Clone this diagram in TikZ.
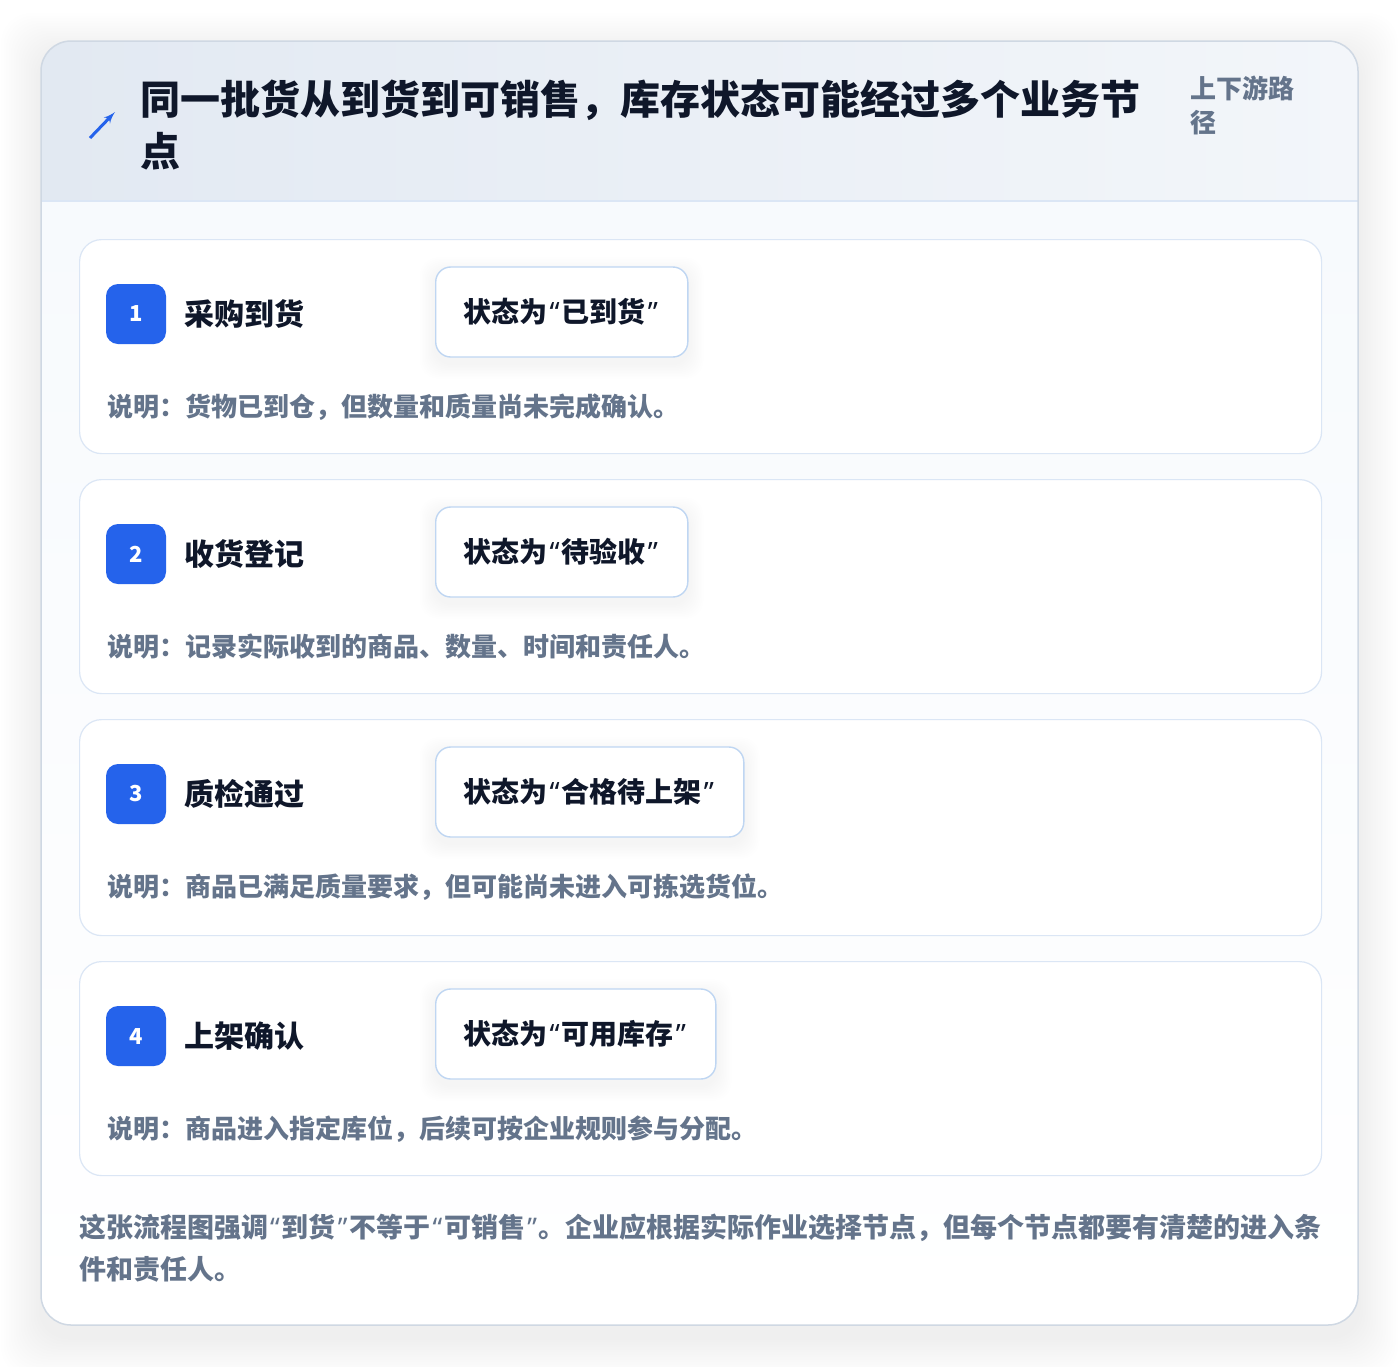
\documentclass[tikz,border=0pt]{standalone}
\usepackage{fontspec}
\setmainfont{Noto Sans CJK SC}
\newfontfamily\qfont{Noto Sans}
\newcommand\qo{{\qfont\kern2pt“\kern2pt}}
\newcommand\qc{{\qfont\kern2pt”\kern2pt}}
\usetikzlibrary{arrows}

\definecolor{ink}{HTML}{0F172A}
\definecolor{muted}{HTML}{64748B}
\definecolor{badgeblue}{HTML}{2563EB}
\definecolor{cardline}{HTML}{DBE6F5}
\definecolor{stateline}{HTML}{BFD6F2}
\definecolor{frameline}{HTML}{CFD8E3}
\definecolor{bodybg}{HTML}{F7FAFD}
\definecolor{headleft}{HTML}{E2E9F2}
\definecolor{headright}{HTML}{F3F6FA}

\pgfdeclarelayer{cards}
\pgfdeclarelayer{shade}
\pgfsetlayers{cards,shade,main}

\begin{document}
\begin{tikzpicture}[x=1pt,y=-1pt]
			\tikzstyle{card}=[draw=cardline,fill=white,rounded corners=22pt,line width=1.2pt,anchor=north west,minimum width=1242pt,inner sep=0pt]
			\tikzstyle{badge}=[fill=badgeblue,rounded corners=12pt,minimum width=60pt,minimum height=60pt,inner sep=0pt,text=white,font=\fontsize{22}{22}\selectfont\bfseries]
			\tikzstyle{stepname}=[anchor=west,inner sep=0pt,text=ink,font=\fontsize{30}{30}\selectfont\bfseries]
			\tikzstyle{state}=[draw=stateline,fill=white,rounded corners=15pt,line width=1.4pt,minimum height=90pt,inner xsep=28pt,anchor=west,text=ink,font=\fontsize{28}{28}\selectfont\bfseries]
			\tikzstyle{note}=[anchor=west,inner sep=0pt,text=muted,font=\fontsize{26}{26}\selectfont\bfseries]
			\tikzstyle{haze}=[black,fill opacity=0.004]

			\useasboundingbox (0,0) rectangle (1400,1366);

			\begin{pgfonlayer}{cards}
			\fill[white] (0,0) rectangle (1400,1366);

			% outer frame and its shadow
			\foreach \k in {1,...,16}
				\fill[haze,rounded corners=30pt] (41-2.5*\k,41-2.5*\k+12) rectangle (1358+2.5*\k,1325+2.5*\k+12);
			\fill[white,rounded corners=30pt] (41,41) rectangle (1358,1325);
			\begin{scope}
				\clip[rounded corners=30pt] (41,41) rectangle (1358,1325);
				\shade[top color=bodybg,bottom color=white] (41,201) rectangle (1358,1325);
				\shade[left color=headleft,right color=headright] (41,41) rectangle (1358,201);
			\end{scope}
			\draw[cardline,line width=1.5pt] (41,201) -- (1358,201);
			\draw[frameline,line width=1.5pt,rounded corners=30pt] (41,41) rectangle (1358,1325);
			\end{pgfonlayer}

			% header
			\draw[badgeblue,line width=3pt,-latex'] (90,138) -- (115,112);
			\node[anchor=north west,align=left,inner sep=0pt,text=ink,font=\fontsize{40}{52}\selectfont\bfseries] (title) at (140,80) {同一批货从到货到可销售，库存状态可能经过多个业务节\\点};
			\node[anchor=north west,align=left,inner sep=0pt,text=muted,font=\fontsize{26}{34}\selectfont\bfseries] (scope) at (1190,76) {上下游路\\径};

			% steps
			\foreach \n/\ytop/\hgt/\name/\stat/\desc in {
				1/239/214/采购到货/状态为\qo 已到货\qc/说明：货物已到仓，但数量和质量尚未完成确认。,
				2/479/214/收货登记/状态为\qo 待验收\qc/说明：记录实际收到的商品、数量、时间和责任人。,
				3/719/216/质检通过/状态为\qo 合格待上架\qc/说明：商品已满足质量要求，但可能尚未进入可拣选货位。,
				4/961/214/上架确认/状态为\qo 可用库存\qc/说明：商品进入指定库位，后续可按企业规则参与分配。}{
				\begin{pgfonlayer}{cards}
				\node[card,minimum height=\hgt pt] (card\n) at (79,\ytop) {};
				\end{pgfonlayer}
				\node[badge] (badge\n) at (136,\ytop+75) {\n};
				\node[stepname] (name\n) at (184,\ytop+75) {\name};
				\node[state] (state\n) at (435,\ytop+73) {\stat};
				\node[note] (note\n) at (107,\ytop+168) {\desc};
				\begin{pgfonlayer}{shade}
				\foreach \k in {1,...,10}
					\fill[black,fill opacity=0.0045,rounded corners=18pt] ([xshift=-1.5*\k pt,yshift=-1.5*\k pt-6pt]state\n.south west) rectangle ([xshift=1.5*\k pt,yshift=1.5*\k pt-6pt]state\n.north east);
				\end{pgfonlayer}
			}

			% footer
			\node[anchor=north west,align=left,inner sep=0pt,text=muted,font=\fontsize{27}{42}\selectfont\bfseries] (summary) at (79,1214) {这张流程图强调\qo 到货\qc 不等于\qo 可销售\qc 。企业应根据实际作业选择节点，但每个节点都要有清楚的进入条\\件和责任人。};
\end{tikzpicture}
\end{document}
